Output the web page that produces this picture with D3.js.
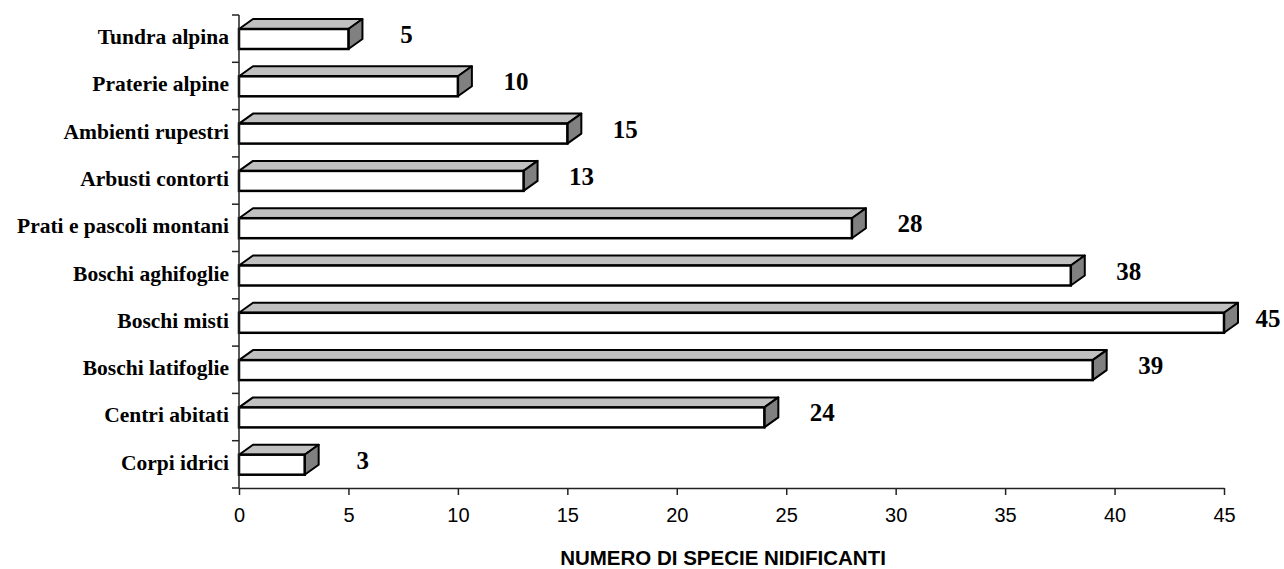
<!DOCTYPE html>
<html lang="en">
<head>
<meta charset="utf-8">
<title>Numero di specie nidificanti</title>
<script type="text/javascript" src="https://cdnjs.cloudflare.com/ajax/libs/d3/7.8.5/d3.min.js"></script>
<style>
body { margin: 0; background: #fff; }
.cat { font-family: "Liberation Serif", "Times New Roman", serif; font-weight: bold; font-size: 21.5px; fill: #000; }
.val { font-family: "Liberation Serif", "Times New Roman", serif; font-weight: bold; font-size: 25px; fill: #000; }
.tick text { font-family: "Liberation Sans", Arial, sans-serif; font-size: 20px; fill: #000; }
.title { font-family: "Liberation Sans", Arial, sans-serif; font-weight: bold; font-size: 20.5px; fill: #000; }
</style>
</head>
<body>
<div id="chart"></div>
<script type="text/javascript">

var categories = ["Tundra alpina", "Praterie alpine", "Ambienti rupestri", "Arbusti contorti",
    "Prati e pascoli montani", "Boschi aghifoglie", "Boschi misti", "Boschi latifoglie",
    "Centri abitati", "Corpi idrici"];
var values = [5, 10, 15, 13, 28, 38, 45, 39, 24, 3];
var xTicks = [0, 5, 10, 15, 20, 25, 30, 35, 40, 45];
var axisTitle = "NUMERO DI SPECIE NIDIFICANTI";

var width = 1284, height = 569;
var m = {left: 239, right: 1224, top: 15, bottom: 488};

var svg = d3.select("#chart").append("svg")
    .attr("width", width)
    .attr("height", height);

var x = d3.scaleLinear().domain([0, 45]).range([m.left, m.right]);
var y = d3.scaleBand().domain(categories).range([m.top, m.bottom]);

// depth of the 3d bars
var dx = 14, dy = -10;
var faceTop = 14, faceH = 20;

var data = categories.map((c, i) => ({name: c, value: values[i]}));

var bars = svg.append("g").selectAll(".bar")
    .data(data)
    .enter().append("g")
        .attr("class", "bar");

// top face
bars.append("path")
    .attr("d", function(d) {
        let y0 = y(d.name) + faceTop, x0 = x(0), x1 = x(d.value);
        return "M" + x0 + "," + y0 + "L" + (x0 + dx) + "," + (y0 + dy) +
            "L" + (x1 + dx) + "," + (y0 + dy) + "L" + x1 + "," + y0 + "Z";
    })
    .style("fill", "#c0c0c0")
    .style("stroke", "#000")
    .style("stroke-width", 2)
    .style("stroke-linejoin", "round");

// side face
bars.append("path")
    .attr("d", function(d) {
        let y0 = y(d.name) + faceTop, x1 = x(d.value);
        return "M" + x1 + "," + y0 + "L" + (x1 + dx) + "," + (y0 + dy) +
            "L" + (x1 + dx) + "," + (y0 + dy + faceH) + "L" + x1 + "," + (y0 + faceH) + "Z";
    })
    .style("fill", "#808080")
    .style("stroke", "#000")
    .style("stroke-width", 2)
    .style("stroke-linejoin", "round");

// front face
bars.append("rect")
    .attr("x", x(0))
    .attr("y", d => y(d.name) + faceTop)
    .attr("width", d => x(d.value) - x(0))
    .attr("height", faceH)
    .style("fill", "#fff")
    .style("stroke", "#000")
    .style("stroke-width", 2.5);

// value labels, pulled in where they would leave the picture
bars.append("text")
    .attr("class", "val")
    .attr("x", d => Math.min(x(d.value) + 58, width - 16))
    .attr("y", d => y(d.name) + faceTop + 14)
    .attr("text-anchor", "middle")
    .text(d => d.value);

// y axis
var yAxis = svg.append("g");
yAxis.append("line")
    .attr("x1", m.left).attr("x2", m.left)
    .attr("y1", m.top).attr("y2", m.bottom)
    .style("stroke", "#222").style("stroke-width", 1.5);
yAxis.selectAll(".ytick")
    .data(categories.concat(["end"]))
    .enter().append("line")
        .attr("x1", m.left - 7).attr("x2", m.left)
        .attr("y1", (d, i) => m.top + i * y.step())
        .attr("y2", (d, i) => m.top + i * y.step())
        .style("stroke", "#222").style("stroke-width", 1.5);
yAxis.selectAll(".cat")
    .data(categories)
    .enter().append("text")
        .attr("class", "cat")
        .attr("x", m.left - 10)
        .attr("y", d => y(d) + faceTop + 15)
        .attr("text-anchor", "end")
        .text(d => d);

// x axis
var xAxis = svg.append("g")
    .attr("transform", "translate(0," + m.bottom + ")")
    .call(d3.axisBottom(x).tickValues(xTicks).tickSize(7).tickPadding(13).tickSizeOuter(0));
xAxis.select(".domain").style("stroke", "#222").style("stroke-width", 1.5);
xAxis.selectAll(".tick line").style("stroke", "#222").style("stroke-width", 1.5);

svg.append("text")
    .attr("class", "title")
    .attr("x", 723)
    .attr("y", 565)
    .attr("text-anchor", "middle")
    .text(axisTitle);

</script>
</body>
</html>
